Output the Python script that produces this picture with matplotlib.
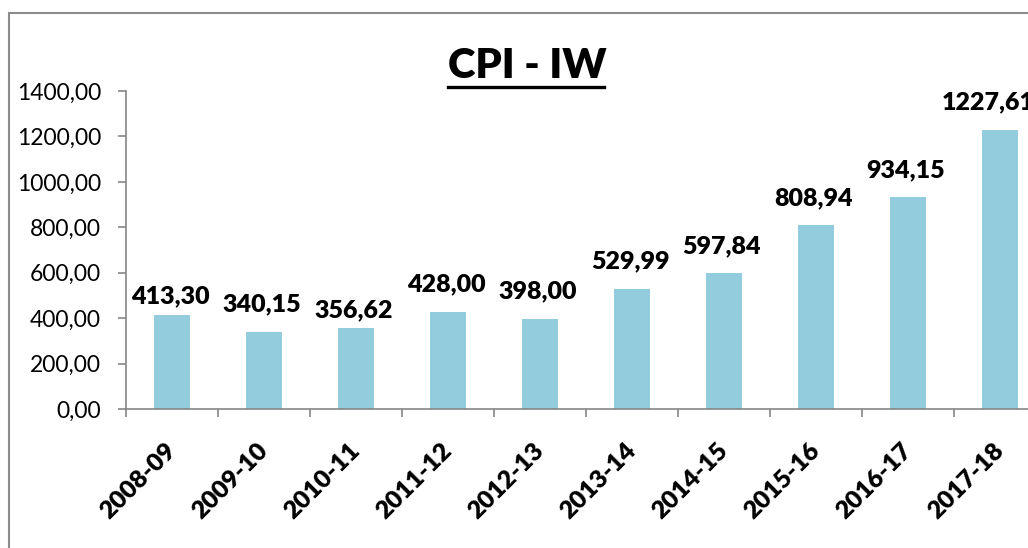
import matplotlib.pyplot as plt
import matplotlib.patches as patches
from matplotlib.lines import Line2D
from matplotlib.ticker import FuncFormatter, FixedLocator
import numpy as np

years = ["2008-09", "2009-10", "2010-11", "2011-12", "2012-13",
         "2013-14", "2014-15", "2015-16", "2016-17", "2017-18"]
cpi = [413.30, 340.15, 356.62, 428.00, 398.00,
       529.99, 597.84, 808.94, 934.15, 1227.61]

# label nudges in pixels (labels were moved by hand in the original)
label_gap = [12, 20, 11, 20, 20, 20, 20, 20, 20, 21]
label_dx = [-2, -2, -2, -2, -2, -2, -2, -2, -2, -12]

plt.rcParams["font.family"] = ["Lato", "DejaVu Sans"]

W, H = 1028, 548
fig = plt.figure(figsize=(W / 100, H / 100), dpi=100)

def comma(v, pos=None):
    return f"{v:.2f}".replace(".", ",")

ax = fig.add_axes([126 / W, 1 - 409 / H, 920 / W, 318 / H])
x = np.arange(len(years))
bars = ax.bar(x, cpi, width=0.4, color="#93cddd")

ax.set_xlim(-0.5, len(years) - 0.5)
ax.set_ylim(0, 1400)
ax.set_yticks(np.arange(0, 1401, 200))
ax.yaxis.set_major_formatter(FuncFormatter(comma))
ax.tick_params(axis="y", length=6, width=1.2, color="#868686", pad=12, labelsize=16.5)

ax.set_xticks(x)
ax.set_xticklabels(years, rotation=45, ha="right", va="center",
                   rotation_mode="anchor", fontweight="heavy", fontsize=18)
ax.xaxis.set_minor_locator(FixedLocator(np.arange(-0.5, len(years), 1)))
ax.tick_params(axis="x", which="major", length=0, pad=27)
ax.tick_params(axis="x", which="minor", length=6, width=1.2, color="#868686")

for s in ["top", "right"]:
    ax.spines[s].set_visible(False)
for s in ["left", "bottom"]:
    ax.spines[s].set_color("#868686")
    ax.spines[s].set_linewidth(1.2)

for xi, v, g, dx in zip(x, cpi, label_gap, label_dx):
    ax.annotate(comma(v), (xi, v), xytext=(dx * 0.72, g * 0.72), textcoords="offset points",
                ha="center", va="baseline", fontsize=18, fontweight="heavy")

# chart title with underline
fig.text(527 / W, 1 - 78 / H, "CPI - IW", ha="center", va="baseline",
         fontsize=30, fontweight="heavy")
fig.add_artist(Line2D([448 / W, 604 / W], [1 - 86.5 / H, 1 - 86.5 / H],
                      transform=fig.transFigure, color="black", lw=2.4))

# outer chart border
fig.add_artist(patches.Rectangle((9 / W, -0.1), 1.2, 1 - 13 / H + 0.1,
                                 transform=fig.transFigure, fill=False,
                                 edgecolor="#8c8c8c", lw=1.5))

plt.savefig("out.png", dpi=100)
